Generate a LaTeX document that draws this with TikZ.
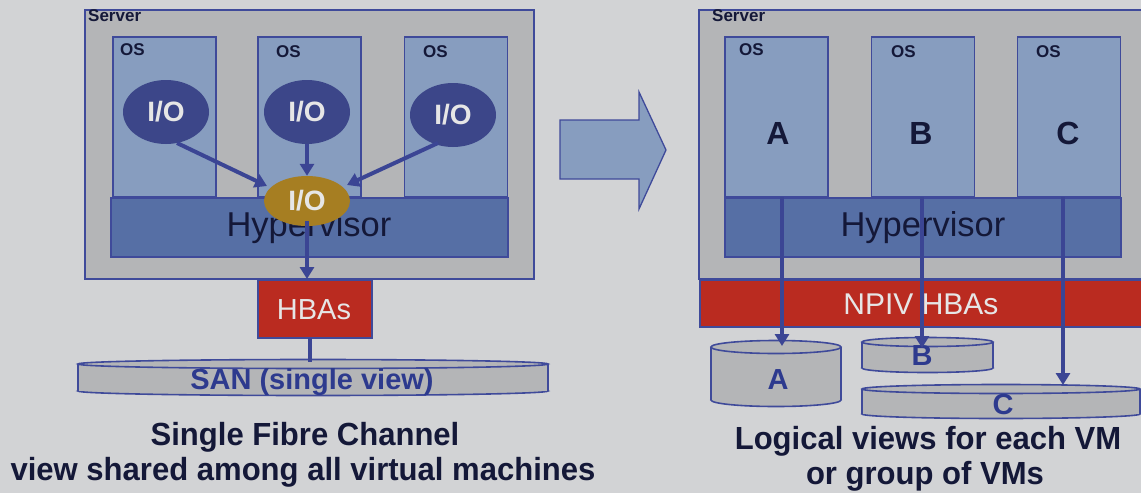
\documentclass[tikz,border=0pt]{standalone}
\usepackage{fontspec}
\setmainfont{Liberation Sans}
\usetikzlibrary{shapes.geometric,arrows.meta,calc}
\definecolor{bg}{HTML}{D2D3D5}
\definecolor{srv}{HTML}{B4B5B7}
\definecolor{osb}{HTML}{879DBF}
\definecolor{edgec}{HTML}{3F4A9A}
\definecolor{hyp}{HTML}{566FA5}
\definecolor{ion}{HTML}{3C4689}
\definecolor{gold}{HTML}{A67E22}
\definecolor{hba}{HTML}{BA2B20}
\definecolor{ink}{HTML}{141838}
\definecolor{lbl}{HTML}{E6E6E6}
\definecolor{sanblue}{HTML}{2D3A8E}
\definecolor{arrc}{HTML}{3B4594}
\newcommand\fs[1]{\fontsize{#1}{#1}\selectfont}
\newcommand\mycyl[5]{%
  \filldraw[cylst] (#1,#3) ellipse [x radius=#4, y radius=#5];
  \fill[srv] (#1-#4,#2) rectangle (#1+#4,#3);
  \draw[cylst] (#1-#4,#2) -- (#1-#4,#3) (#1+#4,#2) -- (#1+#4,#3);
  \filldraw[cylst] (#1,#2) ellipse [x radius=#4, y radius=#5];}
\tikzset{
  boxst/.style={draw=edgec, line width=1.3pt, inner sep=0pt, outer sep=0pt, rectangle},
  srvbox/.style={boxst, fill=srv},
  osbox/.style={boxst, fill=osb, minimum width=103, minimum height=160},
  hypbox/.style={boxst, fill=hyp, minimum width=397, minimum height=59},
  hbabox/.style={boxst, fill=hba},
  ioell/.style={ellipse, fill=ion, minimum width=86, minimum height=64, inner sep=0pt, text=lbl, font=\bfseries\fs{28}},
  hioell/.style={ellipse, fill=gold, minimum width=86, minimum height=50, inner sep=0pt, text=lbl, font=\bfseries\fs{28}},
  arr/.style={draw=arrc, line width=4pt, -{Triangle[length=12pt,width=14pt]}},
  plain/.style={draw=arrc, line width=4pt},
  cylst/.style={draw=edgec, line width=1.6pt, fill=srv},
  srvlbl/.style={anchor=north west, inner sep=0pt, text=ink, font=\bfseries\fs{17}},
  oslbl/.style={anchor=north west, inner sep=0pt, text=ink, font=\bfseries\fs{17}},
  hyplbl/.style={inner sep=0pt, text=ink, font=\fs{34.5}},
  letter/.style={inner sep=0pt, text=ink, font=\bfseries\fs{32}},
  cyllbl/.style={inner sep=0pt, text=sanblue, font=\bfseries\fs{29}},
  hbalbl/.style={inner sep=0pt, text=lbl, font=\fs{29}},
  caption/.style={inner sep=0pt, text=ink, font=\bfseries\fs{32}, align=center}
}
\begin{document}
\begin{tikzpicture}[x=1pt,y=-1pt]
\useasboundingbox (0,0) rectangle (1141,493);
\fill[bg] (0,0) rectangle (1141,493);
\clip (0,0) rectangle (1141,493);

% ---------- left side ----------
\node[srvbox, minimum width=449, minimum height=269] (lsrv) at (309.5,144.5) {};
\node[srvlbl] (lsrvl) at (88,9) {Server};
\node[osbox] (los1) at (164.5,117) {};
\node[osbox] (los2) at (309.5,117) {};
\node[osbox] (los3) at (456,117) {};
\node[oslbl] at (120,43) {OS};
\node[oslbl] at (276,45) {OS};
\node[oslbl] at (423,45) {OS};
\node[hypbox] (lhyp) at (309.5,227.5) {};
\node[hyplbl] at (309,228) {Hypervisor};
\node[ioell] (io1) at (166,112) {I/O};
\node[ioell] (io2) at (307,112) {I/O};
\node[ioell] (io3) at (453,115) {I/O};
\node[hioell] (hio) at (307,201) {I/O};
\coordinate (a1s) at (177,143);
\coordinate (a1e) at (267,186);
\coordinate (a3s) at (438,143);
\coordinate (a3e) at (347,185);
\draw[arr] (a1s) -- (a1e);
\draw[arr] (io2) -- (hio);
\draw[arr] (a3s) -- (a3e);
\coordinate (lsb) at (307,279);
\draw[arr] (hio.center) ++(0,20) -- (lsb);
\node[hbabox, minimum width=114, minimum height=58] (hbas) at (315,309) {};
\node[hbalbl] at (314,310) {HBAs};
\mycyl{313}{364}{391}{235}{4.5}
\coordinate (santop) at (310,362);
\draw[plain] (hbas.south -| santop) -- (santop);
\node[cyllbl] (san) at (312,382) {SAN (single view)};

% ---------- big arrow ----------
\filldraw[fill=osb, draw=edgec, line width=1.3pt]
  (560,120) -- (639,120) -- (639,92) -- (666,150) -- (639,209) -- (639,179) -- (560,179) -- cycle;

% ---------- right side ----------
\node[srvbox, minimum width=470, minimum height=269] (rsrv) at (934,144.5) {};
\node[srvlbl] at (712,9) {Server};
\node[osbox] (osA) at (776.5,117) {};
\node[osbox] (osB) at (923,117) {};
\node[osbox] (osC) at (1069,117) {};
\node[oslbl] at (739,43) {OS};
\node[oslbl] at (891,45) {OS};
\node[oslbl] at (1036,45) {OS};
\node[letter] at (778,133) {A};
\node[letter] at (921,133) {B};
\node[letter] at (1068,133) {C};
\node[hypbox, minimum width=396] (rhyp) at (923,227.5) {};
\node[hyplbl] at (923,228) {Hypervisor};
\node[hbabox, minimum width=470, minimum height=47] (npiv) at (935,303.5) {};
\node[hbalbl, font=\fs{30}] at (921,304) {NPIV HBAs};
\mycyl{776}{347}{400}{65}{6.5}
\mycyl{927.5}{342}{368}{65.5}{4.5}
\mycyl{1001}{389}{414}{139}{4.5}
\node[cyllbl] (cA) at (778,380) {A};
\node[cyllbl] (cB) at (922,356) {B};
\node[cyllbl] (cC) at (1003,405) {C};
\coordinate (aS) at (782,197);
\coordinate (aE) at (782,346);
\coordinate (bS) at (922,197);
\coordinate (bE) at (922,348);
\coordinate (cS) at (1063,197);
\coordinate (cE) at (1063,385);
\draw[arr] (aS) -- (aE);
\draw[arr] (bS) -- (bE);
\draw[arr] (cS) -- (cE);

% ---------- captions ----------
\node[caption] (capl1) at (305,437) {\scalebox{0.97}[1]{Single Fibre Channel}};
\node[caption] (capl2) at (303,472) {\scalebox{0.97}[1]{view shared among all virtual machines}};
\node[caption] (capr1) at (928,441) {\scalebox{0.97}[1]{Logical views for each VM}};
\node[caption] (capr2) at (925,476) {\scalebox{0.97}[1]{or group of VMs}};
\end{tikzpicture}
\end{document}
